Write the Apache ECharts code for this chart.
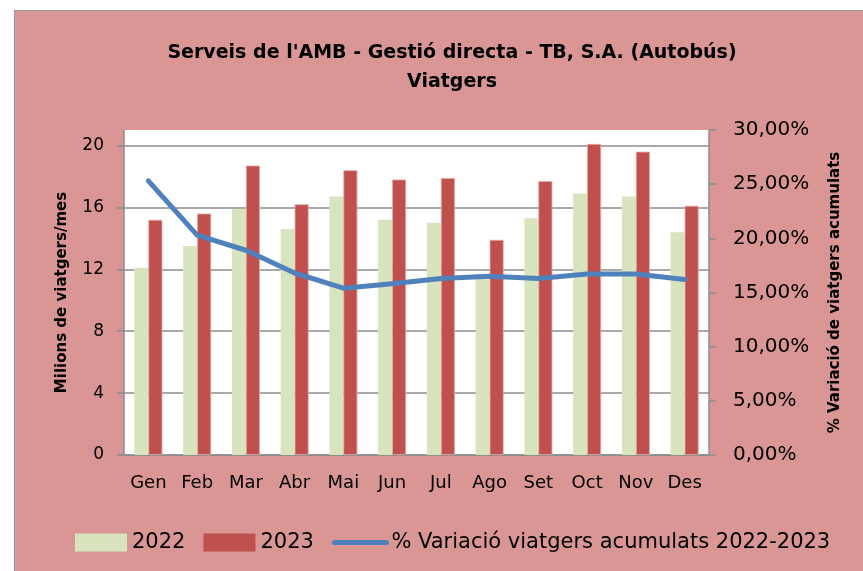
<!DOCTYPE html>
<html>
<head>
<meta charset="utf-8">
<script src="https://cdn.jsdelivr.net/npm/echarts@6/dist/echarts.min.js"></script>
<style>
html,body{margin:0;padding:0;background:#fff;}
#wrap{position:relative;width:863px;height:571px;overflow:hidden;background:#fff;}
#bg{position:absolute;left:14px;top:10px;right:-2px;bottom:-2px;background:#D99694;border-left:1.5px solid #9a9a9a;border-top:1.5px solid #9a9a9a;}
#chart{position:absolute;left:0;top:0;width:863px;height:571px;}
</style>
</head>
<body>
<div id="wrap"><div id="bg"></div><div id="chart"></div></div>
<script>
const categories = ['Gen','Feb','Mar','Abr','Mai','Jun','Jul','Ago','Set','Oct','Nov','Des'];
const values2022 = [12.1, 13.5, 15.9, 14.6, 16.7, 15.2, 15.0, 11.7, 15.3, 16.9, 16.7, 14.4];
const values2023 = [15.2, 15.6, 18.7, 16.2, 18.4, 17.8, 17.9, 13.9, 17.7, 20.1, 19.6, 16.1];
const variacio = [0.253, 0.203, 0.189, 0.168, 0.154, 0.158, 0.163, 0.165, 0.163, 0.167, 0.167, 0.162];
const leftTicks = [0, 4, 8, 12, 16, 20];
const titleText = "Serveis de l'AMB - Gestió directa - TB, S.A. (Autobús)\nViatgers";
const lineName = '% Variació viatgers acumulats 2022-2023';

const chart = echarts.init(document.getElementById('chart'), null, {renderer: 'canvas'});
const gray = '#8c8c8c';
chart.setOption({
  backgroundColor: 'transparent',
  textStyle: {fontFamily: 'DejaVu Sans', color: '#000'},
  animation: false,
  title: {
    text: titleText,
    left: 447, top: 34, textAlign: 'center',
    textStyle: {fontFamily: 'DejaVu Sans', fontWeight: 'bold', fontSize: 19, lineHeight: 29, color: '#000'}
  },
  grid: {left: 124, right: 154, top: 130, bottom: 116, show: true, backgroundColor: '#ffffff', borderWidth: 0},
  legend: {
    left: 70, top: 527, itemGap: 18, itemWidth: 52, itemHeight: 18,
    textStyle: {fontSize: 21, color: '#000', fontFamily: 'DejaVu Sans'},
    data: [
      {name: '2022', icon: 'rect'},
      {name: '2023', icon: 'rect', itemStyle: {borderWidth: 0}},
      {name: lineName, itemStyle: {color: 'rgba(0,0,0,0)', borderColor: 'rgba(0,0,0,0)', borderWidth: 0},
       lineStyle: {width: 5, color: '#4F81BD', cap: 'round'}}
    ]
  },
  xAxis: {
    type: 'category', data: categories,
    axisLine: {show: true, lineStyle: {color: gray, width: 1.5}},
    axisTick: {show: false},
    axisLabel: {fontSize: 18, color: '#000', margin: 19}
  },
  yAxis: [{
    type: 'value', min: 0, max: 21, interval: 4,
    name: 'Milions de viatgers/mes', nameLocation: 'middle', nameRotate: 90, nameGap: 54,
    nameTextStyle: {fontWeight: 'bold', fontSize: 15, color: '#000'},
    axisLine: {show: true, lineStyle: {color: gray, width: 1.5}},
    axisTick: {show: true, length: 7, lineStyle: {color: gray, width: 1.5}},
    axisLabel: {fontSize: 17, color: '#000', margin: 20, showMaxLabel: false,
      formatter: v => leftTicks.indexOf(v) >= 0 ? String(v) : ''},
    splitLine: {show: true, showMaxLine: false, lineStyle: {color: gray, width: 1.5}}
  }, {
    type: 'value', min: 0, max: 0.3, interval: 0.05, position: 'right',
    name: '% Variació de viatgers acumulats', nameLocation: 'middle', nameRotate: 90, nameGap: 119,
    nameTextStyle: {fontWeight: 'bold', fontSize: 15, color: '#000'},
    axisLine: {show: true, lineStyle: {color: gray, width: 1.5}},
    axisTick: {show: true, length: 7, lineStyle: {color: gray, width: 1.5}},
    axisLabel: {fontSize: 20, color: '#000', margin: 24,
      formatter: v => (v * 100).toFixed(2).replace('.', ',') + '%'},
    splitLine: {show: false}
  }],
  series: [{
    name: '2022', type: 'bar', data: values2022, barWidth: 14, barGap: '0%',
    itemStyle: {color: '#D7E4BD'}
  }, {
    name: '2023', type: 'bar', data: values2023, barWidth: 14,
    itemStyle: {color: '#C0504D', borderColor: '#E3A9A7', borderWidth: 0.8}
  }, {
    name: lineName, type: 'line', yAxisIndex: 1,
    data: variacio, symbol: 'none', showSymbol: false,
    lineStyle: {color: '#4F81BD', width: 5, cap: 'round', join: 'round'},
    itemStyle: {color: '#4F81BD'}
  }]
});
</script>
</body>
</html>
